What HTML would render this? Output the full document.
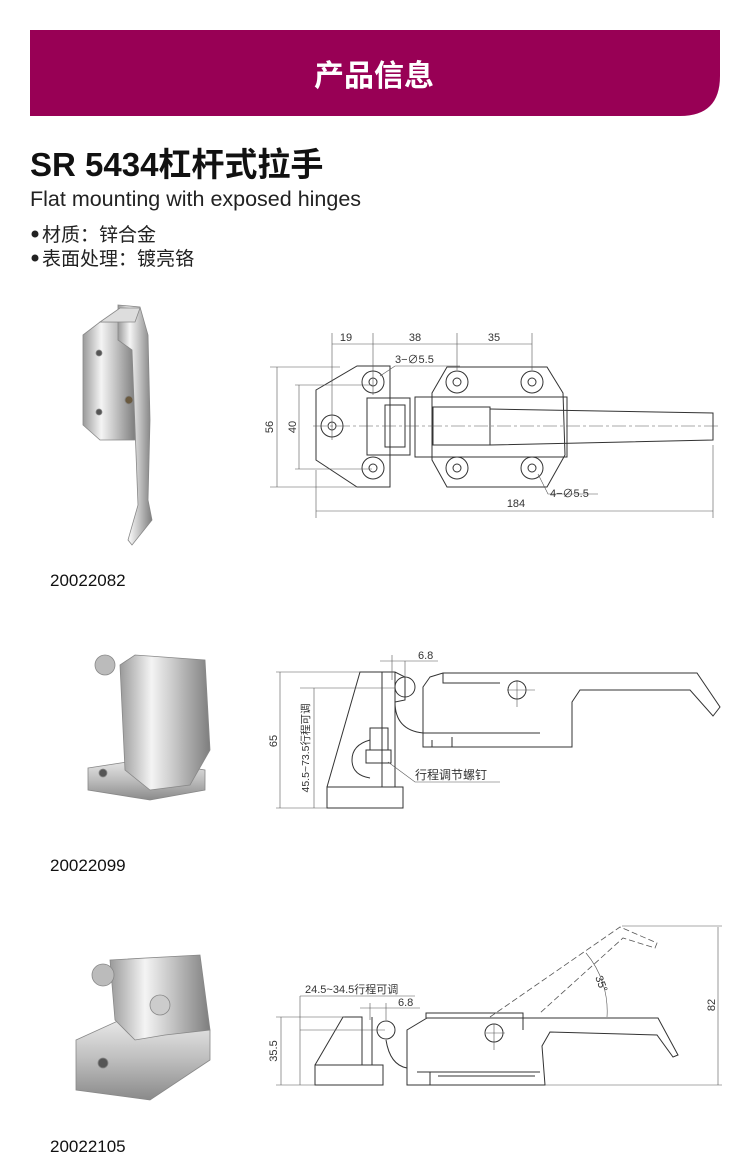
<!DOCTYPE html>
<html><head><meta charset="utf-8"><style>
html,body{margin:0;padding:0;background:#fff}
svg{display:block}
text{font-family:"Liberation Sans","Noto Sans CJK SC",sans-serif}
</style></head><body>
<svg width="750" height="1160" viewBox="0 0 750 1160" xmlns="http://www.w3.org/2000/svg">
<defs>
<linearGradient id="chr" x1="0" x2="1" y1="0" y2="0">
<stop offset="0" stop-color="#9a9a9a"/><stop offset="0.35" stop-color="#f4f4f4"/><stop offset="0.6" stop-color="#c8c8c8"/><stop offset="1" stop-color="#7e7e7e"/></linearGradient>
<linearGradient id="chr2" x1="0" x2="0" y1="0" y2="1">
<stop offset="0" stop-color="#e8e8e8"/><stop offset="0.5" stop-color="#bdbdbd"/><stop offset="1" stop-color="#8a8a8a"/></linearGradient>
</defs>
<!-- header -->
<path d="M30 30 H720 V76 Q720 116 680 116 H30 Z" fill="#980055"/>
<text x="374" y="86" font-size="30" font-weight="bold" fill="#fff" text-anchor="middle">产品信息</text>
<text x="30" y="176" font-size="33" font-weight="bold" fill="#111">SR 5434杠杆式拉手</text>
<text x="30" y="206" font-size="21.5" fill="#222">Flat mounting with exposed hinges</text>
<circle cx="35" cy="234" r="3.5" fill="#222"/>
<text x="42" y="241" font-size="19" fill="#222">材质：锌合金</text>
<circle cx="35" cy="258" r="3.5" fill="#222"/>
<text x="42" y="265" font-size="19" fill="#222">表面处理：镀亮铬</text>

<!-- photo 1 -->
<g stroke="#888" stroke-width="0.8">
<path d="M83 335 L100 322 L135 322 L135 440 L100 440 L83 425 Z" fill="url(#chr)"/>
<path d="M118 305 L140 307 L148 335 L150 420 L148 500 L152 520 L132 545 L128 540 L138 505 L132 350 L118 340 Z" fill="url(#chr)"/>
<path d="M100 322 L120 308 L140 308 L135 322 Z" fill="#ddd"/>
<circle cx="99" cy="353" r="3" fill="#555"/><circle cx="99" cy="412" r="3" fill="#555"/>
<circle cx="129" cy="400" r="4" fill="#6a5a40"/>
</g>
<text x="50" y="586" font-size="17" fill="#111">20022082</text>

<!-- photo 2 -->
<g stroke="#888" stroke-width="0.8">
<path d="M88 768 L140 760 L205 770 L205 790 L150 800 L88 790 Z" fill="url(#chr2)"/>
<path d="M120 665 L135 655 L205 660 L210 750 L190 785 L150 790 L125 770 Z" fill="url(#chr)"/>
<circle cx="105" cy="665" r="10" fill="#bbb"/><circle cx="103" cy="773" r="4" fill="#555"/>
</g>
<text x="50" y="871" font-size="17" fill="#111">20022099</text>

<!-- photo 3 -->
<g stroke="#888" stroke-width="0.8">
<path d="M76 1040 L120 1020 L210 1030 L210 1060 L150 1100 L76 1090 Z" fill="url(#chr2)"/>
<path d="M110 960 L200 955 L210 1030 L165 1035 L135 1040 L115 1020 Z" fill="url(#chr)"/>
<circle cx="103" cy="975" r="11" fill="#bbb"/><circle cx="160" cy="1005" r="10" fill="#ccc"/>
<circle cx="103" cy="1063" r="5" fill="#555"/>
</g>
<text x="50" y="1152" font-size="17" fill="#111">20022105</text>

<!-- drawing 1 -->
<g fill="none" stroke="#333" stroke-width="1">
<path d="M316 390 L357 366 L390 366 L390 487 L357 487 L316 460 Z"/>
<path d="M432 393 L447 367 L547 367 L563 393 L565 455 L547 487 L447 487 L432 460 Z"/>
<rect x="367" y="398" width="43" height="57"/>
<rect x="385" y="405" width="20" height="42"/>
<rect x="415" y="397" width="152" height="60"/>
<path d="M433 407 H490 V445 H433 Z"/>
<path d="M490 409 L713 413 L713 440 L490 445"/>
<g>
<circle cx="373" cy="382" r="11"/><circle cx="373" cy="382" r="4"/>
<circle cx="457" cy="382" r="11"/><circle cx="457" cy="382" r="4"/>
<circle cx="532" cy="382" r="11"/><circle cx="532" cy="382" r="4"/>
<circle cx="373" cy="468" r="11"/><circle cx="373" cy="468" r="4"/>
<circle cx="457" cy="468" r="11"/><circle cx="457" cy="468" r="4"/>
<circle cx="532" cy="468" r="11"/><circle cx="532" cy="468" r="4"/>
<circle cx="332" cy="426" r="11"/><circle cx="332" cy="426" r="4"/>
</g>
</g>
<g fill="none" stroke="#555" stroke-width="0.6">
<path d="M313 426 H720" stroke-dasharray="14 3 3 3"/>
<path d="M332 333 V440 M373 333 V395 M457 333 V370 M532 333 V370"/>
<path d="M332 344 H532"/>
<path d="M270 367 H340 M270 487 H357 M295 385 H372 M295 469 H372"/>
<path d="M277 367 V487 M299 385 V469"/>
<path d="M316 470 V518 M713 445 V518 M316 511 H713"/>
<path d="M380 376 L395 366 H460 M538 474 L548 494 H598"/>
</g>
<g font-size="11" fill="#333">
<text x="346" y="341" text-anchor="middle">19</text>
<text x="415" y="341" text-anchor="middle">38</text>
<text x="494" y="341" text-anchor="middle">35</text>
<text x="395" y="363">3−∅5.5</text>
<text x="550" y="497">4−∅5.5</text>
<text x="516" y="507" text-anchor="middle">184</text>
<text transform="translate(273 427) rotate(-90)" text-anchor="middle">56</text>
<text transform="translate(296 427) rotate(-90)" text-anchor="middle">40</text>
</g>

<!-- drawing 2 -->
<g fill="none" stroke="#333" stroke-width="1">
<rect x="327" y="787" width="76" height="21"/>
<path d="M327 787 L360 672 L382 672 L382 787"/>
<path d="M382 672 V787 M395 672 V787"/>
<path d="M382 672 H395 L405 677 V700 L395 702"/>
<circle cx="405" cy="687" r="10"/>
<path d="M430 677 L443 673 H697 L720 707 L713 716 L690 690 H580 L572 702 V747 H423 V687 Z"/>
<path d="M443 673 V683 H500"/>
<path d="M423 733 H540 M432 740 V747 M452 737 V747 H565"/>
<circle cx="517" cy="690" r="9"/>
<path d="M395 702 Q395 730 423 733"/>
<path d="M370 740 Q352 745 352 760 Q352 775 370 778"/>
<rect x="370" y="728" width="18" height="22"/>
<rect x="366" y="750" width="25" height="13"/>
</g>
<g fill="none" stroke="#555" stroke-width="0.6">
<path d="M276 672 H360 M276 808 H327 M300 688 H395"/>
<path d="M280 672 V808 M314 688 V808"/>
<path d="M380 661 H438 M392 655 V680 M405 661 V680"/>
<path d="M388 762 L415 782 H500"/>
<path d="M507 690 H535 M517 680 V707"/>
</g>
<g font-size="11" fill="#333">
<text x="418" y="659">6.8</text>
<text x="415" y="779" font-size="12">行程调节螺钉</text>
<text transform="translate(277 741) rotate(-90)" text-anchor="middle">65</text>
<text transform="translate(309 748) rotate(-90)" text-anchor="middle" font-size="10.5">45.5~73.5行程可调</text>
</g>

<!-- drawing 3 -->
<g fill="none" stroke="#333" stroke-width="1">
<path d="M315 1065 V1085 H383 V1065 Z"/>
<path d="M315 1065 L343 1017 H362 V1065 M362 1065 H383"/>
<path d="M362 1017 V1065 M372 1017 V1065"/>
<circle cx="386" cy="1030" r="9"/>
<path d="M407 1085 V1030 L427 1018 H658 L678 1055 L673 1057 L657 1035 L550 1032 L542 1046 L545 1085 Z"/>
<path d="M426 1018 V1013 H523 V1030"/>
<path d="M417 1072 H540 M430 1072 V1085 M438 1076 H535"/>
<circle cx="494" cy="1033" r="9"/>
<path d="M386 1040 Q390 1065 407 1068"/>
</g>
<g fill="none" stroke="#555" stroke-width="0.8" stroke-dasharray="6 3">
<path d="M490 1017 L620 927 L657 943 L655 948 L623 938 L540 1013"/>
</g>
<g fill="none" stroke="#555" stroke-width="0.6">
<path d="M622 926 H722 M545 1085 H722 M718 927 V1085"/>
<path d="M276 1017 H345 M276 1085 H315 M281 1017 V1085 M300 1030 H385 M300 996 V1085 M300 996 H415"/>
<path d="M360 1008 H420 M370 1003 V1020 M386 1003 V1020"/>
<path d="M586 953 A90 90 0 0 1 607 1017"/>
<path d="M486 1033 H505 M494 1024 V1050"/>
</g>
<g font-size="11" fill="#333">
<text x="305" y="993">24.5~34.5行程可调</text>
<text x="398" y="1006">6.8</text>
<text transform="translate(598 985) rotate(70)" text-anchor="middle">35°</text>
<text transform="translate(715 1005) rotate(-90)" text-anchor="middle">82</text>
<text transform="translate(277 1051) rotate(-90)" text-anchor="middle">35.5</text>
</g>
</svg>
</body></html>
